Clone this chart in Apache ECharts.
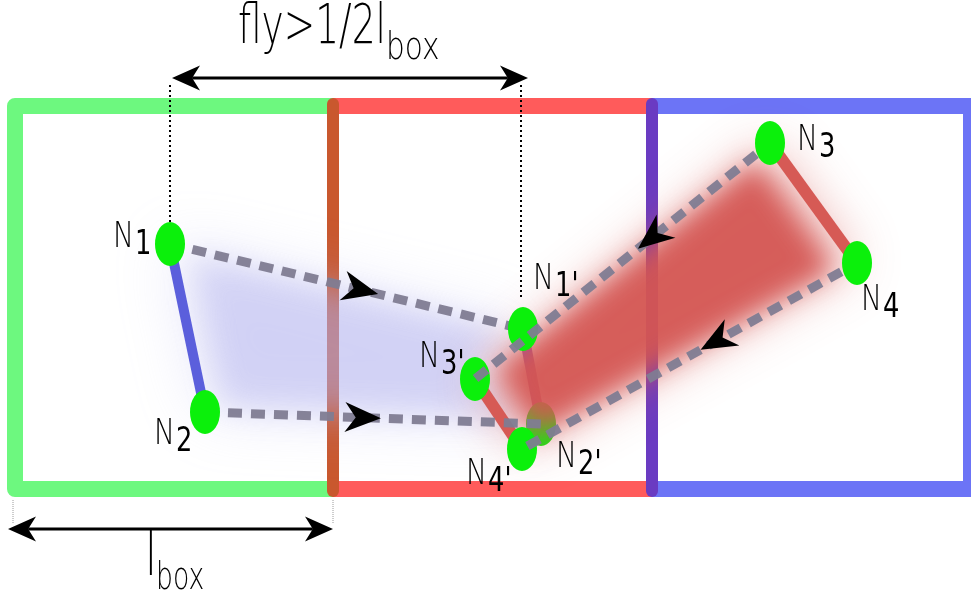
<!DOCTYPE html>
<html><head><meta charset="utf-8">
<script src="https://cdn.jsdelivr.net/npm/echarts@6/dist/echarts.min.js"></script>
<style>html,body{margin:0;padding:0;background:#fff}#c{width:971px;height:604px}</style>
</head><body><div id="c"></div>
<script>
// ---------------- data ----------------
const nodeNames = ['1', '2', "1'", "2'", "3'", "4'", '3', '4'];
const nodeX = [170, 205, 523, 541, 475, 522, 770, 857];
const nodeY = [244, 412, 329, 424, 379, 449, 143, 263];
const bondPairs = [['1', '2'], ["1'", "2'"], ["3'", "4'"], ['3', '4']];
const movePairs = [['1', "1'"], ['2', "2'"], ['3', "3'"], ['4', "4'"]];
const moveArrowAt = [0.54, 0.47, 0.40, 0.42];
const blurPolygons = [['1', "1'", "3'", "2'", '2'], ['3', '4', "4'", "3'"]];
const boxNames = ['green', 'red', 'blue'];
const boxX0 = [15, 333, 652];
const boxX1 = [333, 652, 971];
const boxYTop = [106, 106, 106];
const boxYBottom = [489, 489, 489];
const titleText = ['fly>1/2l', 'box'];
const lboxText = ['l', 'box'];
const topSpanX = [172, 528];
const topSpanY = [78, 78];
const bottomSpanX = [8, 333];
const bottomSpanY = [529, 529];
const guideX = [170, 521];
const guideY0 = [85, 85];
const guideY1 = [222, 297];
const tickGuideX = [13, 333];
const tickGuideY0 = [500, 500];
const tickGuideY1 = [524, 524];

// ---------------- layout / style ----------------
const FONT = '"DejaVu Sans","Liberation Sans",sans-serif';
const boxColors = ['#6df87f', '#ff5b5b', '#6c74f6'];
const sepColors = ['#c9582e', '#6a3bc2'];
const bondColors = ['#5b5fdc', null, '#d65a55', '#d65a55'];
const labelOffset = {
  '1': [-36, 6], '2': [-30, 35], "1'": [31, -37], "2'": [36, 46],
  "3'": [-35, -9], "4'": [-35, 38], '3': [48, 10], '4': [25, 50]
};
const blurLayers = [
  [{ k: 1.0, blur: 60, color: 'rgba(180,180,240,0.30)' }, { k: 0.9, blur: 30, color: 'rgba(176,176,238,0.40)' }],
  [{ k: 1.0, blur: 50, color: 'rgba(214,90,86,0.45)' }, { k: 0.88, blur: 26, color: 'rgba(212,86,82,0.92)' }]
];
const SUB_DROP = 7;
const OFF = 2500;

const idx = n => nodeNames.indexOf(n);
const P = (api, n) => api.coord([nodeX[idx(n)], nodeY[idx(n)]]);
function headPts(tip, ux, uy, L, W, notch) {
  const nx = -uy, ny = ux;
  const bx = tip[0] - ux * L, by = tip[1] - uy * L;
  return [tip, [bx + nx * W / 2, by + ny * W / 2],
    [tip[0] - ux * L * notch, tip[1] - uy * L * notch], [bx - nx * W / 2, by - ny * W / 2]];
}
function txt(x, y, s, size, align, color, sx, weight) {
  return {
    type: 'text', x: x, y: y - 0.35 * size, scaleX: sx || 1,
    style: { text: s, font: (weight || 'normal') + ' ' + size + 'px ' + FONT, fill: color || '#111', align: align, verticalAlign: 'middle' }
  };
}
function nodeShape(api, n) {
  const p = P(api, n);
  return { type: 'circle', x: p[0], y: p[1], scaleY: 22 / 15, shape: { cx: 0, cy: 0, r: 15 }, style: { fill: '#0bf00b' } };
}
function moveLine(api, i) {
  const a = P(api, movePairs[i][0]), b = P(api, movePairs[i][1]);
  const len = Math.hypot(b[0] - a[0], b[1] - a[1]);
  const ux = (b[0] - a[0]) / len, uy = (b[1] - a[1]) / len;
  const s = i >= 2 ? 18 : 0;
  return { type: 'line', shape: { x1: a[0] + ux * s, y1: a[1] + uy * s, x2: b[0], y2: b[1] },
    style: { stroke: 'rgba(128,124,146,0.95)', lineWidth: 9, lineDash: [14, 9] } };
}

const base = { type: 'custom', coordinateSystem: 'cartesian2d', silent: true, clip: false, animation: false };
const series = [];

// boxes
series.push(Object.assign({}, base, {
  z: 1, data: boxNames.map((b, i) => [boxX0[i], boxYTop[i]]),
  renderItem: (params, api) => {
    const i = params.dataIndex;
    const a = api.coord([boxX0[i], boxYTop[i]]), b = api.coord([boxX1[i], boxYBottom[i]]);
    const st = { stroke: boxColors[i], lineWidth: 16, fill: null, lineJoin: 'round' };
    if (i === 0) return { type: 'polyline', shape: { points: [[b[0], a[1]], [a[0], a[1]], [a[0], b[1]], [b[0], b[1]]] }, style: st };
    if (i === 2) return { type: 'polyline', shape: { points: [[a[0], a[1]], [b[0], a[1]], [b[0], b[1]], [a[0], b[1]]] }, style: st };
    return { type: 'group', children: [
      { type: 'line', shape: { x1: a[0], y1: a[1], x2: b[0], y2: a[1] }, style: st },
      { type: 'line', shape: { x1: a[0], y1: b[1], x2: b[0], y2: b[1] }, style: st }] };
  }
}));
// separators
series.push(Object.assign({}, base, {
  z: 2, data: [[boxX0[1], boxYTop[1]], [boxX0[2], boxYTop[2]]],
  renderItem: (params, api) => {
    const i = params.dataIndex + 1;
    const a = api.coord([boxX0[i], boxYTop[i]]), b = api.coord([boxX0[i], boxYBottom[i]]);
    return { type: 'line', shape: { x1: a[0], y1: a[1] - 2, x2: b[0], y2: b[1] + 2 },
      style: { stroke: sepColors[i - 1], lineWidth: 12, lineCap: 'round' } };
  }
}));
// under-blur bond N1'-N2' and node N2'
series.push(Object.assign({}, base, {
  z: 3, data: [[nodeX[2], nodeY[2]]],
  renderItem: (params, api) => {
    const a = P(api, "1'"), b = P(api, "2'");
    return { type: 'group', children: [
      { type: 'line', shape: { x1: a[0], y1: a[1], x2: b[0], y2: b[1] },
        style: { stroke: new echarts.graphic.LinearGradient(a[0], a[1], b[0], b[1],
          [{ offset: 0, color: '#7150d8' }, { offset: 1, color: '#cf5566' }], true), lineWidth: 10 } },
      nodeShape(api, "2'")] };
  }
}));
// blurs
series.push(Object.assign({}, base, {
  z: 4, data: blurPolygons.map(p => [nodeX[idx(p[0])], nodeY[idx(p[0])]]),
  renderItem: (params, api) => {
    const i = params.dataIndex;
    const pts = blurPolygons[i].map(n => P(api, n));
    const cx = pts.reduce((s, p) => s + p[0], 0) / pts.length, cy = pts.reduce((s, p) => s + p[1], 0) / pts.length;
    return { type: 'group', children: blurLayers[i].map(L => ({
      type: 'polygon',
      shape: { points: pts.map(p => [cx + (p[0] - cx) * L.k - OFF, cy + (p[1] - cy) * L.k]) },
      style: { fill: '#000', shadowBlur: L.blur, shadowOffsetX: OFF, shadowColor: L.color } })) };
  }
}));
// bonds
series.push(Object.assign({}, base, {
  z: 5, data: [[nodeX[0], nodeY[0]], [nodeX[4], nodeY[4]], [nodeX[6], nodeY[6]]],
  renderItem: (params, api) => {
    const bi = [0, 2, 3][params.dataIndex];
    const a = P(api, bondPairs[bi][0]), b = P(api, bondPairs[bi][1]);
    return { type: 'line', shape: { x1: a[0], y1: a[1], x2: b[0], y2: b[1] },
      style: { stroke: bondColors[bi], lineWidth: bi === 0 ? 10 : 12 } };
  }
}));
// dashed moves from the left box (under nodes)
series.push(Object.assign({}, base, {
  z: 6, data: [[nodeX[0], nodeY[0]], [nodeX[1], nodeY[1]]],
  renderItem: (params, api) => moveLine(api, params.dataIndex)
}));
// nodes
series.push(Object.assign({}, base, {
  z: 7, data: nodeNames.map((n, i) => [nodeX[i], nodeY[i]]),
  renderItem: (params, api) => {
    const n = nodeNames[params.dataIndex];
    if (n === "2'") return { type: 'group', children: [] };
    return nodeShape(api, n);
  }
}));
// dashed moves from the right box (over nodes)
series.push(Object.assign({}, base, {
  z: 8, data: [[nodeX[6], nodeY[6]], [nodeX[7], nodeY[7]]],
  renderItem: (params, api) => moveLine(api, params.dataIndex + 2)
}));
// arrowheads on moves
series.push(Object.assign({}, base, {
  z: 8, data: movePairs.map(p => [nodeX[idx(p[0])], nodeY[idx(p[0])]]),
  renderItem: (params, api) => {
    const i = params.dataIndex;
    const a = P(api, movePairs[i][0]), b = P(api, movePairs[i][1]);
    const f = moveArrowAt[i];
    const c = [a[0] + (b[0] - a[0]) * f, a[1] + (b[1] - a[1]) * f];
    const len = Math.hypot(b[0] - a[0], b[1] - a[1]);
    const ux = (b[0] - a[0]) / len, uy = (b[1] - a[1]) / len;
    const L = 36, tip = [c[0] + ux * L / 2, c[1] + uy * L / 2];
    return { type: 'polygon', shape: { points: headPts(tip, ux, uy, L, 30, 0.7) }, style: { fill: '#000' } };
  }
}));
// labels
series.push(Object.assign({}, base, {
  z: 9, data: nodeNames.map((n, i) => [nodeX[i], nodeY[i]]),
  renderItem: (params, api) => {
    const n = nodeNames[params.dataIndex];
    const p = P(api, n), o = labelOffset[n];
    const ax = p[0] + o[0], by = p[1] + o[1];
    return { type: 'group', children: [
      txt(ax, by, 'N', 35, 'right', '#000', 0.8, 200),
      txt(ax + 1, by + SUB_DROP, n, 33, 'left', '#000', 0.78)] };
  }
}));
// span arrows
series.push(Object.assign({}, base, {
  z: 9, data: [[topSpanX[0], topSpanY[0]], [bottomSpanX[0], bottomSpanY[0]]],
  renderItem: (params, api) => {
    const xs = params.dataIndex === 0 ? topSpanX : bottomSpanX;
    const ys = params.dataIndex === 0 ? topSpanY : bottomSpanY;
    const a = api.coord([xs[0], ys[0]]), b = api.coord([xs[1], ys[1]]);
    const L = 28, W = 25, nt = 0.72;
    return { type: 'group', children: [
      { type: 'line', shape: { x1: a[0] + L * nt, y1: a[1], x2: b[0] - L * nt, y2: b[1] }, style: { stroke: '#000', lineWidth: 3 } },
      { type: 'polygon', shape: { points: headPts(a, -1, 0, L, W, nt) }, style: { fill: '#000' } },
      { type: 'polygon', shape: { points: headPts(b, 1, 0, L, W, nt) }, style: { fill: '#000' } }] };
  }
}));
// guides
series.push(Object.assign({}, base, {
  z: 9, data: guideX.map((x, i) => [x, guideY0[i]]),
  renderItem: (params, api) => {
    const i = params.dataIndex;
    const a = api.coord([guideX[i], guideY0[i]]), b = api.coord([guideX[i], guideY1[i]]);
    const c = api.coord([tickGuideX[i], tickGuideY0[i]]), d = api.coord([tickGuideX[i], tickGuideY1[i]]);
    return { type: 'group', children: [
      { type: 'line', shape: { x1: a[0], y1: a[1], x2: b[0], y2: b[1] }, style: { stroke: '#000', lineWidth: 2, lineDash: [2, 3] } },
      { type: 'line', shape: { x1: c[0], y1: c[1], x2: d[0], y2: d[1] }, style: { stroke: '#9a9a9a', lineWidth: 1, lineDash: [1, 1] } }] };
  }
}));
// titles
series.push(Object.assign({}, base, {
  z: 10, data: [[topSpanX[0], topSpanY[0]]],
  renderItem: (params, api) => {
    const t = api.coord([386, 48]), s = api.coord([386, 62]);
    const u = api.coord([157, 580]), v = api.coord([156, 592]);
    return { type: 'group', children: [
      txt(t[0], t[1], titleText[0], 56, 'right', '#000', 0.67, 200),
      txt(s[0], s[1], titleText[1], 37, 'left', '#000', 0.8, 200),
      txt(u[0], u[1], lboxText[0], 60, 'right', '#000', 0.72, 200),
      txt(v[0], v[1], lboxText[1], 37, 'left', '#000', 0.72, 200)] };
  }
}));

const chart = echarts.init(document.getElementById('c'), null, { renderer: 'canvas', width: 971, height: 604 });
chart.setOption({
  animation: false,
  backgroundColor: '#ffffff',
  grid: { left: 0, right: 0, top: 0, bottom: 0 },
  xAxis: { type: 'value', min: 0, max: 971, show: false },
  yAxis: { type: 'value', min: 0, max: 604, inverse: true, show: false },
  series: series
});
</script></body></html>
